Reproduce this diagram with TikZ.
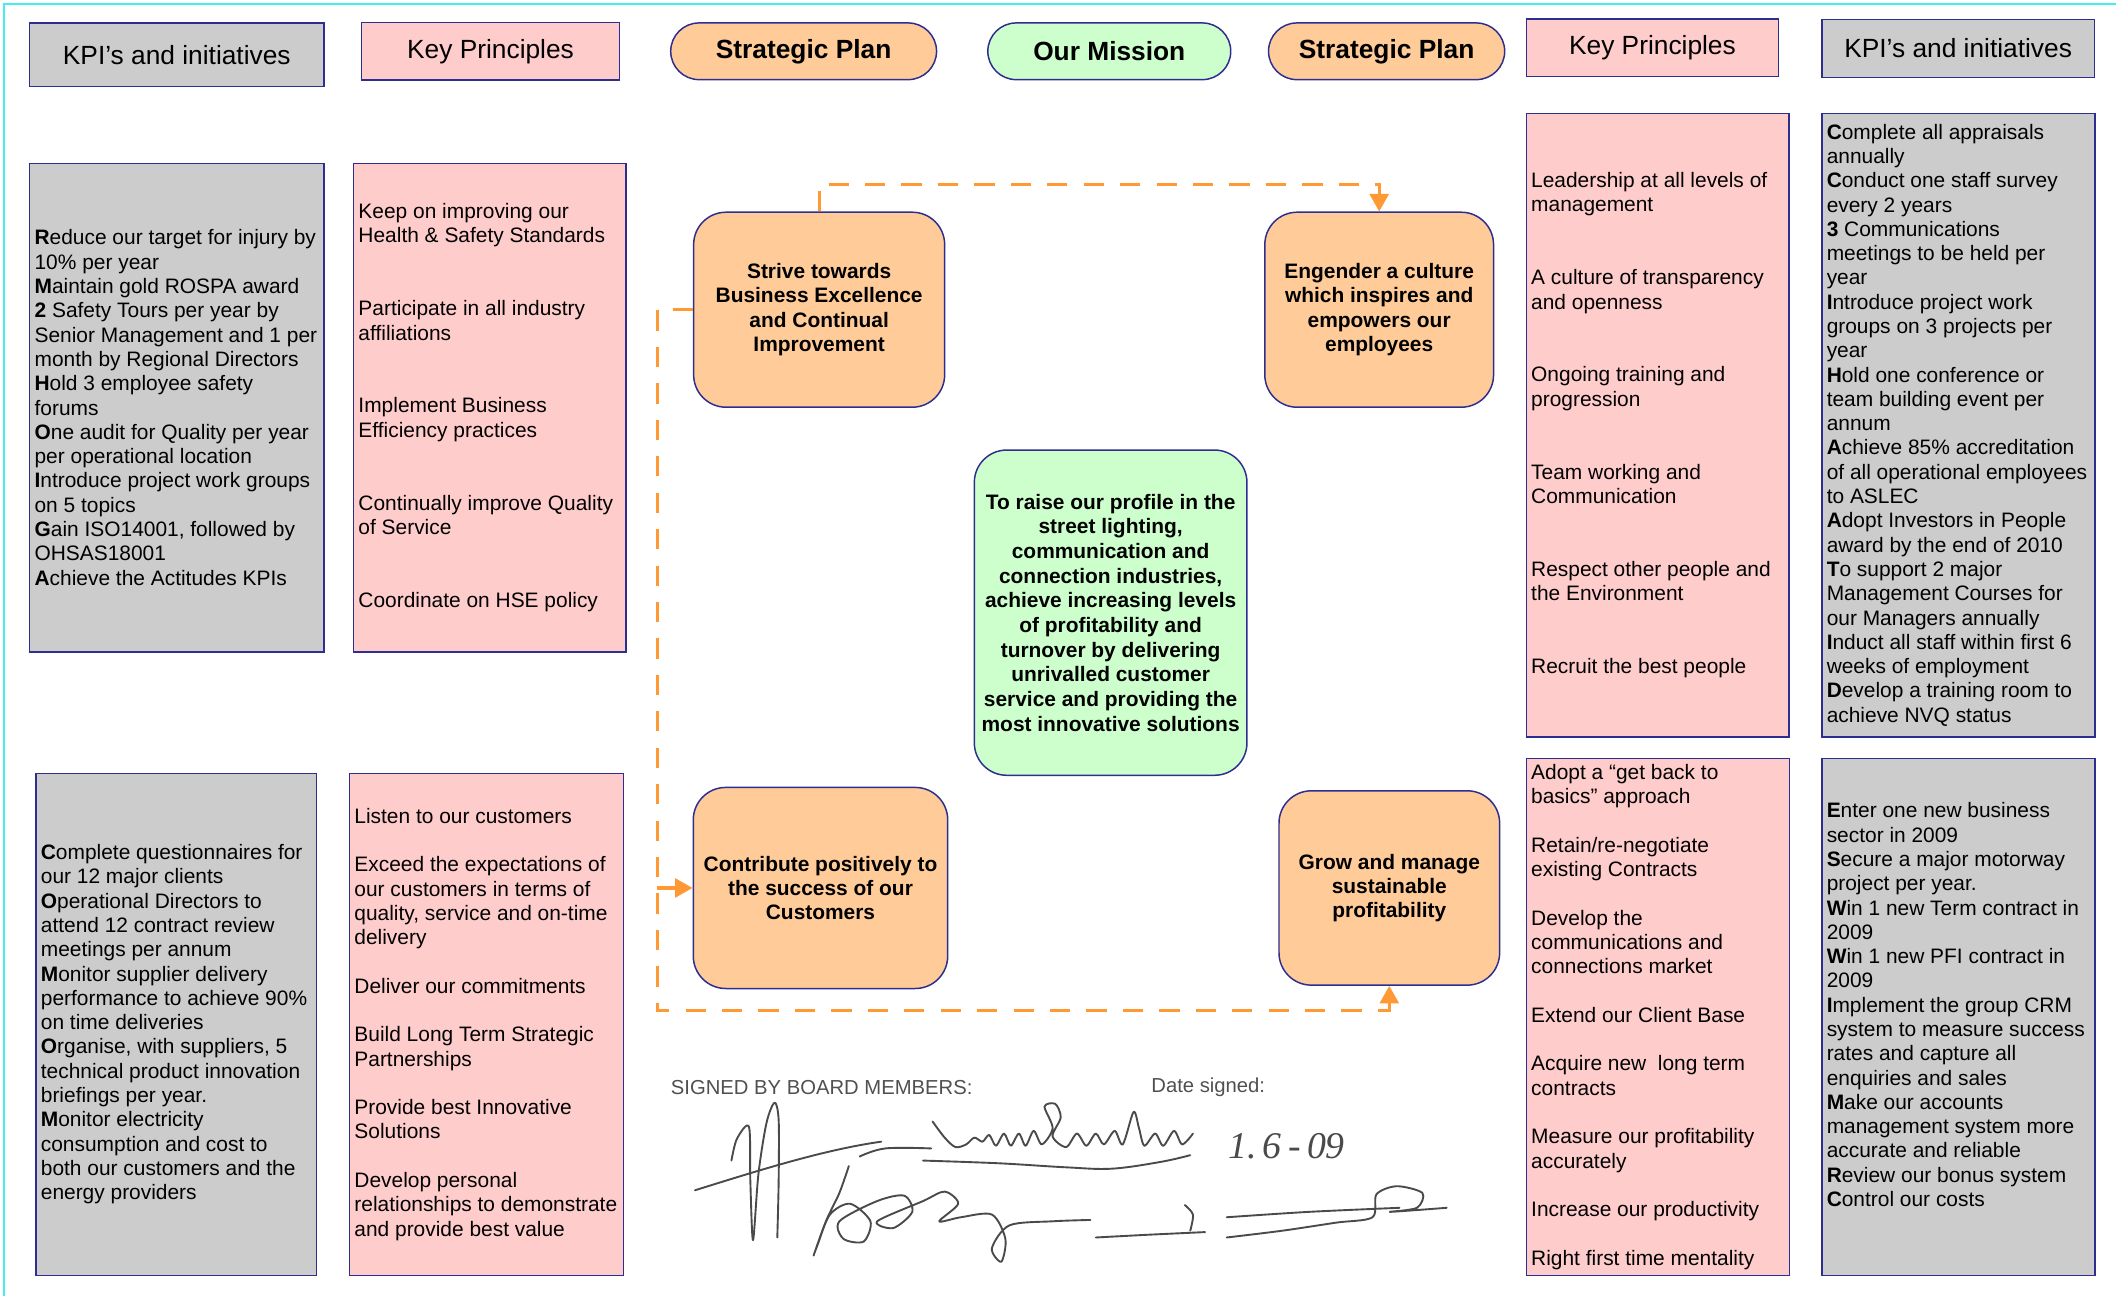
\documentclass[tikz,border=0pt]{standalone}
\usepackage{fontspec}
\setmainfont{Liberation Sans}
\newfontfamily\handfont{Liberation Serif}
\usetikzlibrary{positioning}
\usetikzlibrary{calc}
\usetikzlibrary{arrows.meta}

\definecolor{kpigray}{HTML}{CCCCCC}
\definecolor{kppink}{HTML}{FFCCCC}
\definecolor{planorange}{HTML}{FFCC99}
\definecolor{missiongreen}{HTML}{CCFFCC}
\definecolor{boxline}{HTML}{2E2E90}
\definecolor{linkorange}{HTML}{FF9933}
\definecolor{framecyan}{HTML}{44EEEE}
\definecolor{inkgray}{HTML}{4A4A4A}
\definecolor{signgray}{HTML}{505050}

\begin{document}
\begin{tikzpicture}[x=1pt,y=-1pt,
  font=\fontsize{15.5}{18}\selectfont,
  box/.style={draw=boxline,line width=1.1pt,inner sep=0pt},
  kpi/.style={box,fill=kpigray},
  kp/.style={box,fill=kppink},
  head/.style={font=\fontsize{19.5}{22}\selectfont},
  plan/.style={box,fill=planorange,rounded corners=24pt,align=center,
    font=\fontsize{15.5}{18}\selectfont\bfseries},
  mission/.style={box,fill=missiongreen,rounded corners=24pt,align=center,
    font=\fontsize{15.5}{18.3}\selectfont\bfseries},
  pill/.style={rounded corners=21pt,font=\fontsize{19.5}{22}\selectfont\bfseries},
  list/.style={anchor=west,align=left,inner sep=0pt},
  link/.style={draw=linkorange,line width=2.4pt,dash pattern=on 15pt off 12pt},
  tip/.style={-{Triangle[width=14pt,length=13pt]}},
  ink/.style={draw=inkgray,line width=1.4pt,line cap=round,line join=round},
  frame/.style={draw=framecyan,line width=2pt}]

\useasboundingbox (0,0) rectangle (1568,960);
\draw[frame] (3,960) -- (3,3) -- (1568,3);

\node[kpi,head,minimum width=218pt,minimum height=47pt](kpiHeadL) at (131,40.5){KPI’s and initiatives};
\node[kp,head,minimum width=191pt,minimum height=42.5pt](kpHeadL) at (363.5,38){Key Principles};
\node[plan,pill,minimum width=197pt,minimum height=42pt](planHeadL) at (595.5,38){Strategic Plan};
\node[mission,pill,minimum width=180pt,minimum height=42pt](missionHead) at (822,38){Our Mission};
\node[plan,pill,minimum width=175pt,minimum height=42pt](planHeadR) at (1027.5,38){Strategic Plan};
\node[kp,head,minimum width=187pt,minimum height=42.5pt](kpHeadR) at (1224.5,35.5){Key Principles};
\node[kpi,head,minimum width=202pt,minimum height=43pt](kpiHeadR) at (1451,36){KPI’s and initiatives};

\node[kpi,minimum width=218pt,minimum height=362pt](kpiA) at (131,302){};
\node[list](kpiAlist) at ([xshift=4pt]kpiA.west){\textbf{R}educe our target for injury by\\10\% per year\\\textbf{M}aintain gold ROSPA award\\\textbf{2} Safety Tours per year by\\Senior Management and 1 per\\month by Regional Directors\\\textbf{H}old 3 employee safety\\forums\\\textbf{O}ne audit for Quality per year\\per operational location\\\textbf{I}ntroduce project work groups\\on 5 topics\\\textbf{G}ain ISO14001, followed by\\OHSAS18001\\\textbf{A}chieve the Actitudes KPIs};

\node[kp,minimum width=202pt,minimum height=362pt](kpA) at (363,302){};
\node[list](kpAlist) at ([xshift=4pt]kpA.west){Keep on improving our\\Health \& Safety Standards\\[36pt]Participate in all industry\\affiliations\\[36pt]Implement Business\\Efficiency practices\\[36pt]Continually improve Quality\\of Service\\[36pt]Coordinate on HSE policy};

\node[kp,minimum width=194.5pt,minimum height=462pt](kpB) at (1228.25,315){};
\node[list](kpBlist) at ([xshift=4pt]kpB.west){Leadership at all levels of\\management\\[36pt]A culture of transparency\\and openness\\[36pt]Ongoing training and\\progression\\[36pt]Team working and\\Communication\\[36pt]Respect other people and\\the Environment\\[36pt]Recruit the best people};

\node[kpi,minimum width=202.5pt,minimum height=462pt](kpiB) at (1451.25,315){};
\node[list](kpiBlist) at ([xshift=4pt]kpiB.west){\textbf{C}omplete all appraisals\\annually\\\textbf{C}onduct one staff survey\\every 2 years\\\textbf{3} Communications\\meetings to be held per\\year\\\textbf{I}ntroduce project work\\groups on 3 projects per\\year\\\textbf{H}old one conference or\\team building event per\\annum\\\textbf{A}chieve 85\% accreditation\\of all operational employees\\to ASLEC\\\textbf{A}dopt Investors in People\\award by the end of 2010\\\textbf{T}o support 2 major\\Management Courses for\\our Managers annually\\\textbf{I}nduct all staff within first 6\\weeks of employment\\\textbf{D}evelop a training room to\\achieve NVQ status};

\node[kpi,minimum width=208pt,minimum height=372pt](kpiC) at (130.65,759){};
\node[list](kpiClist) at ([xshift=4pt]kpiC.west){\textbf{C}omplete questionnaires for\\our 12 major clients\\\textbf{O}perational Directors to\\attend 12 contract review\\meetings per annum\\\textbf{M}onitor supplier delivery\\performance to achieve 90\%\\on time deliveries\\\textbf{O}rganise, with suppliers, 5\\technical product innovation\\briefings per year.\\\textbf{M}onitor electricity\\consumption and cost to\\both our customers and the\\energy providers};

\node[kp,minimum width=203pt,minimum height=372pt](kpC) at (360.5,759){};
\node[list](kpClist) at ([xshift=4pt]kpC.west){Listen to our customers\\[18pt]Exceed the expectations of\\our customers in terms of\\quality, service and on-time\\delivery\\[18pt]Deliver our commitments\\[18pt]Build Long Term Strategic\\Partnerships\\[18pt]Provide best Innovative\\Solutions\\[18pt]Develop personal\\relationships to demonstrate\\and provide best value};

\node[kp,minimum width=195pt,minimum height=383pt](kpD) at (1228.5,753.5){};
\node[list](kpDlist) at ([xshift=4pt]kpD.west){Adopt a “get back to\\basics” approach\\[18pt]Retain/re-negotiate\\existing Contracts\\[18pt]Develop the\\communications and\\connections market\\[18pt]Extend our Client Base\\[18pt]Acquire new\ \ long term\\contracts\\[18pt]Measure our profitability\\accurately\\[18pt]Increase our productivity\\[18pt]Right first time mentality};

\node[kpi,minimum width=202.5pt,minimum height=383pt](kpiD) at (1451.25,753.5){};
\node[list](kpiDlist) at ([xshift=4pt,yshift=9pt]kpiD.west){\textbf{E}nter one new business\\sector in 2009\\\textbf{S}ecure a major motorway\\project per year.\\\textbf{W}in 1 new Term contract in\\2009\\\textbf{W}in 1 new PFI contract in\\2009\\\textbf{I}mplement the group CRM\\system to measure success\\rates and capture all\\enquiries and sales\\\textbf{M}ake our accounts\\management system more\\accurate and reliable\\\textbf{R}eview our bonus system\\\textbf{C}ontrol our costs};

\node[plan,minimum width=186pt,minimum height=144.5pt](strive) at (607,229.5){Strive towards\\Business Excellence\\and Continual\\Improvement};
\node[plan,minimum width=169.5pt,minimum height=144.5pt](engender) at (1022,229.5){Engender a culture\\which inspires and\\empowers our\\employees};
\node[mission,minimum width=202pt,minimum height=241pt](mission) at (823,454){To raise our profile in the\\street lighting,\\communication and\\connection industries,\\achieve increasing levels\\of profitability and\\turnover by delivering\\unrivalled customer\\service and providing the\\most innovative solutions};
\node[plan,minimum width=188.5pt,minimum height=149pt](contribute) at (608,658){Contribute positively to\\the success of our\\Customers};
\node[plan,minimum width=163.5pt,minimum height=144pt](grow) at (1029.5,658){Grow and manage\\sustainable\\profitability};

\coordinate (cornerSW) at (487,749);
\coordinate (branch) at (487,658);

\draw[link,tip] (strive.north) -- ++(0,-20) -| (engender.north);
\draw[link,tip] (strive.west) -| (cornerSW) -| (grow.south);
\draw[link,tip] (branch) -- (contribute.west);

\node[anchor=west,inner sep=0pt,text=signgray,font=\fontsize{15}{18}\selectfont](signedBy) at (497,806){SIGNED BY BOARD MEMBERS:};
\node[anchor=west,inner sep=0pt,text=signgray,font=\fontsize{15}{18}\selectfont](dateSigned) at (853,806){Date signed:};
\node[anchor=west,inner sep=0pt,text=inkgray,font=\fontsize{28}{30}\selectfont](dateHand) at (910,849){\handfont\itshape 1.\,6\,-\,09};

\draw[ink] plot[smooth,tension=0.5] coordinates {(542,860) (546,844) (555,835) (556,875) (558,919) (562,870) (568,832) (574,817) (577,830) (577,875) (576,917)};
\draw[ink] (515,882) .. controls (560,868) and (610,852) .. (653,846);
\draw[ink] plot[smooth,tension=0.6] coordinates {(637,857) (656,851) (690,851)};
\draw[ink] plot[smooth,tension=0.6] coordinates {(684,860) (740,862) (790,865) (824,866) (860,861) (882,856)};
\draw[ink] plot[smooth,tension=0.5] coordinates {(691,831) (700,843) (708,850) (716,848) (722,843) (728,846) (733,841) (738,849) (744,840) (749,849) (755,840) (760,849) (766,838) (772,848) (780,836) (774,820) (782,818) (786,828) (780,842) (790,850) (798,840) (805,849) (812,840) (818,848) (826,838) (832,848) (840,824) (844,836) (848,849) (856,840) (862,849) (870,838) (876,848) (884,840)};
\draw[ink] plot[smooth,tension=0.5] coordinates {(629,864) (622,884) (612,905) (603,930) (606,922) (615,900) (630,892) (645,905) (640,920) (625,918) (622,905) (650,890) (670,886) (676,898) (662,910) (650,905) (684,890) (700,883) (710,892) (696,905) (712,902) (735,900) (745,918) (742,935) (735,925) (748,908) (780,905) (808,904)};
\draw[ink] plot[smooth,tension=0.5] coordinates {(878,893) (884,900) (882,912)};
\draw[ink] plot[smooth,tension=0.5] coordinates {(812,917) (850,915) (893,913)};
\draw[ink] plot[smooth,tension=0.5] coordinates {(909,902) (970,898) (1037,895)};
\draw[ink] plot[smooth,tension=0.5] coordinates {(909,917) (950,912) (990,906) (1017,902) (1020,885) (1035,879) (1054,884) (1050,895) (1030,898) (1072,895)};
\end{tikzpicture}
\end{document}
